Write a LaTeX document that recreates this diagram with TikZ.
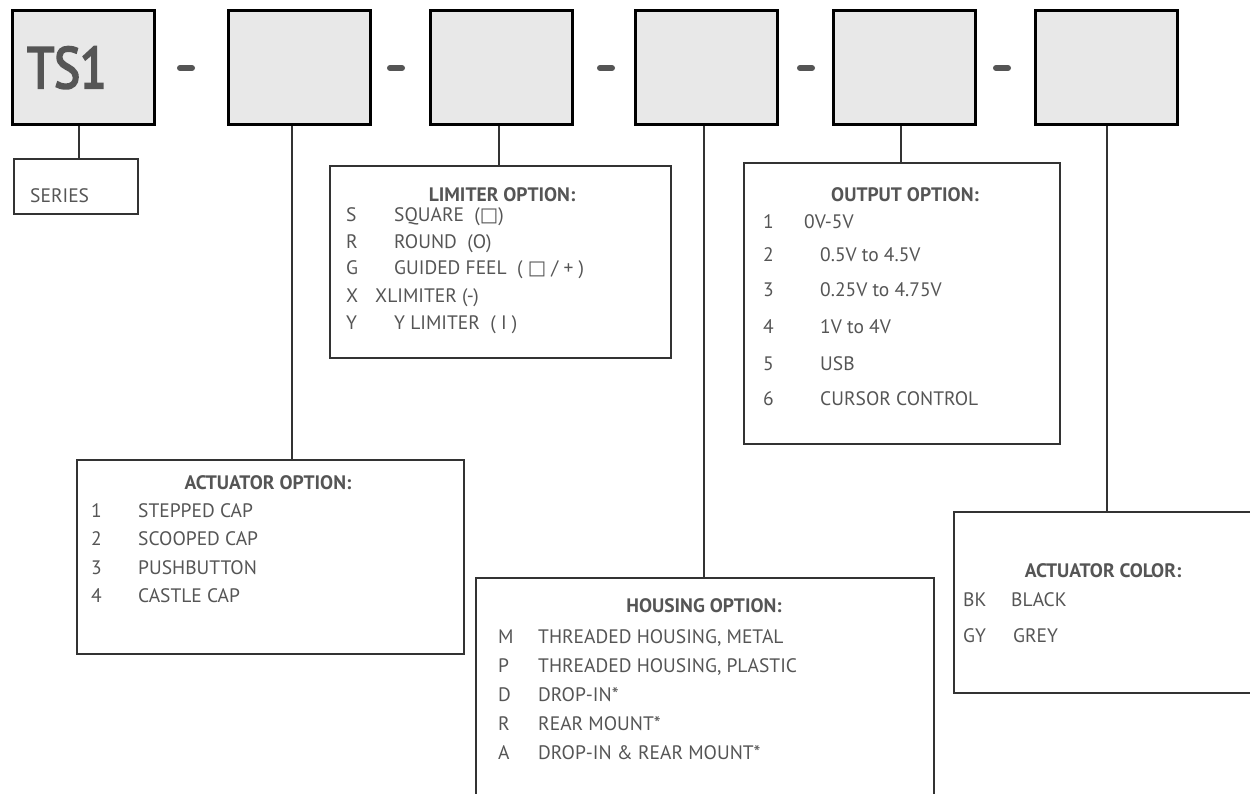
\documentclass[tikz,border=0pt]{standalone}
\usepackage{fontspec}
\setmainfont{PT Sans}
\newfontfamily\symf{DejaVu Sans}
\newfontfamily\tsfont[FakeStretch=0.84,FakeBold=3.5]{PT Sans}
\definecolor{boxfill}{HTML}{E8E8E8}
\definecolor{txtgrey}{HTML}{555555}
\definecolor{linegrey}{HTML}{333333}
\tikzset{
  topbox/.style={draw=black, line width=3pt, fill=boxfill, minimum width=142pt, minimum height=114pt, anchor=north west, inner sep=0},
  optbox/.style={draw=linegrey, line width=2pt, fill=white, anchor=north west, inner sep=0},
  conn/.style={draw=linegrey, line width=1.3pt},
  dashmark/.style={draw=txtgrey, line width=6pt, line cap=round},
  txt/.style={anchor=base west, inner sep=0, text=txtgrey, font=\fontsize{19.5}{19.5}\selectfont},
  ttl/.style={anchor=base, inner sep=0, text=txtgrey, font=\fontsize{19.5}{19.5}\selectfont\bfseries},
  big/.style={anchor=base west, inner sep=0, text=txtgrey, font=\tsfont\fontsize{58}{58}\selectfont}
}
\begin{document}
\begin{tikzpicture}[x=1pt,y=-1pt]
\useasboundingbox (0,0) rectangle (1250,794);
\clip (0,0) rectangle (1250,794);
% top boxes
\node[topbox] (b1) at (11,9) {};
\node[topbox] (b2) at (227,9) {};
\node[topbox] (b3) at (429,9) {};
\node[topbox] (b4) at (634,9) {};
\node[topbox] (b5) at (832,9) {};
\node[topbox] (b6) at (1034,9) {};
\node[big] (ts) at (27,88) {TS1};
% dashes
\foreach \x in {186,396,606,806,1002} {\draw[dashmark] (\x-6,68) -- (\x+6,68);}
% option boxes
\node[optbox, minimum width=124pt, minimum height=55pt] (ser) at (13,158) {};
\node[optbox, minimum width=341pt, minimum height=192pt] (lim) at (329,165) {};
\node[optbox, minimum width=316pt, minimum height=281pt] (out) at (743,162) {};
\node[optbox, minimum width=387pt, minimum height=194pt] (act) at (76,459) {};
\node[optbox, minimum width=458pt, minimum height=240pt] (hou) at (475,577) {};
\node[optbox, minimum width=320pt, minimum height=181pt] (col) at (953,511) {};
% connectors
\draw[conn] (b1.south -| 79,0) -- (79,0 |- ser.north);
\draw[conn] (b2.south -| 292,0) -- (292,0 |- act.north);
\draw[conn] (b3.south -| 499,0) -- (499,0 |- lim.north);
\draw[conn] (b4.south -| 704,0) -- (704,0 |- hou.north);
\draw[conn] (b5.south -| 901,0) -- (901,0 |- out.north);
\draw[conn] (b6.south -| 1107,0) -- (1107,0 |- col.north);
% series
\node[txt] (sert) at (30,203) {SERIES};
% limiter
\node[ttl] (limt) at (502,202) {LIMITER OPTION:};
\node[txt] (l1a) at (346,222) {S};
\node[txt] (l1b) at (394,222) {SQUARE\ \ ({\symf □})};
\node[txt] (l2a) at (346,249) {R};
\node[txt] (l2b) at (394,249) {ROUND\ \ (O)};
\node[txt] (l3a) at (346,275) {G};
\node[txt] (l3b) at (394,275) {GUIDED FEEL\ \ ( {\symf □} / + )};
\node[txt] (l4a) at (346,302) {X};
\node[txt] (l4b) at (375,302) {XLIMITER (-)};
\node[txt] (l5a) at (346,329) {Y};
\node[txt] (l5b) at (394,329) {Y LIMITER\ \ ( I )};
% output
\node[ttl] (outt) at (905,202) {OUTPUT OPTION:};
\node[txt] (o1a) at (763,229) {1};
\node[txt] (o1b) at (804,229) {0V-5V};
\node[txt] (o2a) at (763,262) {2};
\node[txt] (o2b) at (820,262) {0.5V to 4.5V};
\node[txt] (o3a) at (763,297) {3};
\node[txt] (o3b) at (820,297) {0.25V to 4.75V};
\node[txt] (o4a) at (763,334) {4};
\node[txt] (o4b) at (820,334) {1V to 4V};
\node[txt] (o5a) at (763,370) {5};
\node[txt] (o5b) at (820,370) {USB};
\node[txt] (o6a) at (763,405) {6};
\node[txt] (o6b) at (820,405) {CURSOR CONTROL};
% actuator
\node[ttl] (actt) at (268,489) {ACTUATOR OPTION:};
\node[txt] (a1a) at (91,517) {1};
\node[txt] (a1b) at (138,517) {STEPPED CAP};
\node[txt] (a2a) at (91,545) {2};
\node[txt] (a2b) at (138,545) {SCOOPED CAP};
\node[txt] (a3a) at (91,574) {3};
\node[txt] (a3b) at (138,574) {PUSHBUTTON};
\node[txt] (a4a) at (91,602) {4};
\node[txt] (a4b) at (138,602) {CASTLE CAP};
% housing
\node[ttl] (hout) at (704,612) {HOUSING OPTION:};
\node[txt] (h1a) at (498,643) {M};
\node[txt] (h1b) at (538,643) {THREADED HOUSING, METAL};
\node[txt] (h2a) at (498,672) {P};
\node[txt] (h2b) at (538,672) {THREADED HOUSING, PLASTIC};
\node[txt] (h3a) at (498,701) {D};
\node[txt] (h3b) at (538,701) {DROP-IN*};
\node[txt] (h4a) at (498,730) {R};
\node[txt] (h4b) at (538,730) {REAR MOUNT*};
\node[txt] (h5a) at (498,759) {A};
\node[txt] (h5b) at (538,759) {DROP-IN \& REAR MOUNT*};
% colour
\node[ttl] (colt) at (1103,577) {ACTUATOR COLOR:};
\node[txt] (c1a) at (963,606) {BK};
\node[txt] (c1b) at (1011,606) {BLACK};
\node[txt] (c2a) at (963,642) {GY};
\node[txt] (c2b) at (1013,642) {GREY};
\end{tikzpicture}
\end{document}
